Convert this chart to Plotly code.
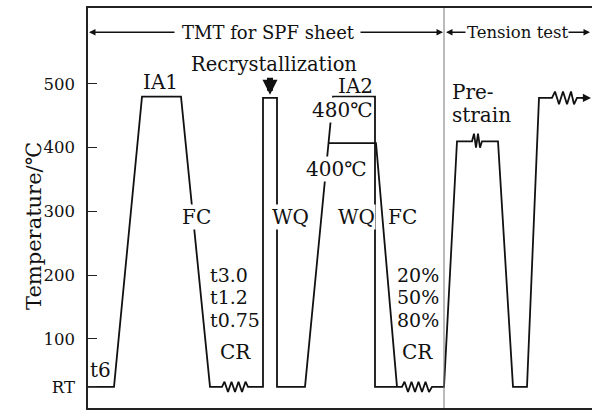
import plotly.graph_objects as go

# ---- data (time axis in arbitrary schematic units, temperature in degC) ----
RT = 25
# main heat-treatment path (IA1 -> FC -> CR -> recrystallization WQ -> IA2(480) WQ -> CR -> prestrain -> test)
path_x = [88, 114, 142, 181, 210, 222, 224.5, 228, 231.5, 235, 238.5, 242, 245.5, 248, 263,
          263, 277, 277, 305, 333, 375, 375, 397, 402, 404.5, 408, 411.5, 415, 418.5, 422,
          425.5, 429, 432, 444, 457, 472, 474, 476, 478, 480, 482, 498, 513, 527, 539,
          552, 555, 559, 563, 567, 571, 574, 577, 586]
path_t = [RT, RT, 480, 480, RT, RT, 33, 17, 33, 17, 33, 17, 33, RT, RT,
          478, 478, RT, RT, 480, 480, RT, RT, RT, 33, 17, 33, 17, 33, 17,
          33, 17, RT, RT, 410, 410, 422, 400, 422, 400, 410, 410, RT, RT, 478,
          478, 488, 468, 488, 468, 488, 468, 478, 478]
# IA2 400 degC branch followed by furnace cooling
branch_x = [329, 376, 397]
branch_t = [407, 407, RT]

section_boundary_x = 444
ytick_vals = [RT, 100, 200, 300, 400, 500]
ytick_text = ["RT", "100", "200", "300", "400", "500"]

FONT = "DejaVu Serif"

fig = go.Figure()
fig.add_trace(go.Scatter(x=path_x, y=path_t, mode="lines",
                         line=dict(color="#111", width=1.8), hoverinfo="skip"))
fig.add_trace(go.Scatter(x=branch_x, y=branch_t, mode="lines",
                         line=dict(color="#111", width=1.8), hoverinfo="skip"))
fig.add_vline(x=section_boundary_x, line=dict(color="#777", width=1))

# text labels: (text, x, y, size, anchor, white background)
labels = [
    ("IA1", 160, 503, 20, "center", False),
    ("IA2", 355, 497, 20, "center", False),
    ("Recrystallization", 274, 530, 19.5, "center", False),
    ("480℃", 342, 459, 20, "center", True),
    ("400℃", 336, 367, 20, "center", True),
    ("FC", 196, 291, 20, "center", True),
    ("WQ", 290, 291, 20, "center", True),
    ("WQ", 356, 291, 20, "center", True),
    ("FC", 402, 291, 20, "center", True),
    ("t3.0", 209, 201, 19, "left", False),
    ("t1.2", 209, 166, 19, "left", False),
    ("t0.75", 209, 130, 19, "left", False),
    ("CR", 235, 80, 20, "center", False),
    ("t6", 100, 51, 20, "center", False),
    ("20%", 418, 201, 19, "center", False),
    ("50%", 418, 166, 19, "center", False),
    ("80%", 418, 130, 19, "center", False),
    ("CR", 417, 80, 20, "center", False),
    ("Pre-", 451, 487, 20, "left", False),
    ("strain", 451, 451, 20, "left", False),
    ("TMT for SPF sheet", 268, 581, 18, "center", False),
    ("Tension test", 518, 581, 16.5, "center", False),
]
for txt, x, y, s, anc, bg in labels:
    fig.add_annotation(x=x, y=y, text=txt, showarrow=False, xanchor=anc,
                       font=dict(family=FONT, size=s, color="#111"),
                       bgcolor="white" if bg else None, borderpad=0)

# arrows: (tip x, tip y, tail x, tail y, width, size)
arrows = [
    (89, 581, 176, 581, 1.3, 1.0),
    (443, 581, 359, 581, 1.3, 1.0),
    (446, 581, 467, 581, 1.3, 1.0),
    (590, 581, 567, 581, 1.3, 1.0),
    (591, 478, 580, 478, 1.8, 0.9),
    (270, 483, 270, 512, 6, 0.5),
]
for tx, ty, axx, ayy, w, sz in arrows:
    fig.add_annotation(x=tx, y=ty, ax=axx, ay=ayy, axref="x", ayref="y",
                       xref="x", yref="y", text="", showarrow=True,
                       arrowhead=2, arrowsize=sz, arrowwidth=w, arrowcolor="#111")

fig.add_annotation(xref="paper", yref="paper", x=(20 - 88) / 504, y=(408 - 226) / 400,
                   text="Temperature/℃", textangle=-90, showarrow=False,
                   font=dict(family=FONT, size=21, color="#111"))

fig.update_xaxes(range=[88, 592], showgrid=False, zeroline=False, showticklabels=False,
                 ticks="", showline=True, mirror=True, linecolor="#222", linewidth=1.5)
fig.update_yaxes(range=[-8.2, 619], showgrid=False, zeroline=False,
                 tickvals=ytick_vals, ticktext=ytick_text, ticks="inside", ticklen=9,
                 tickcolor="#222", tickwidth=1.3, ticklabelstandoff=8,
                 tickfont=dict(family=FONT, size=16.5, color="#111"),
                 showline=True, linecolor="#222", linewidth=1.5)
fig.update_layout(width=592, height=410, margin=dict(l=88, r=0, t=8, b=2),
                  plot_bgcolor="white", paper_bgcolor="white", showlegend=False)

fig.write_html("out.html")
